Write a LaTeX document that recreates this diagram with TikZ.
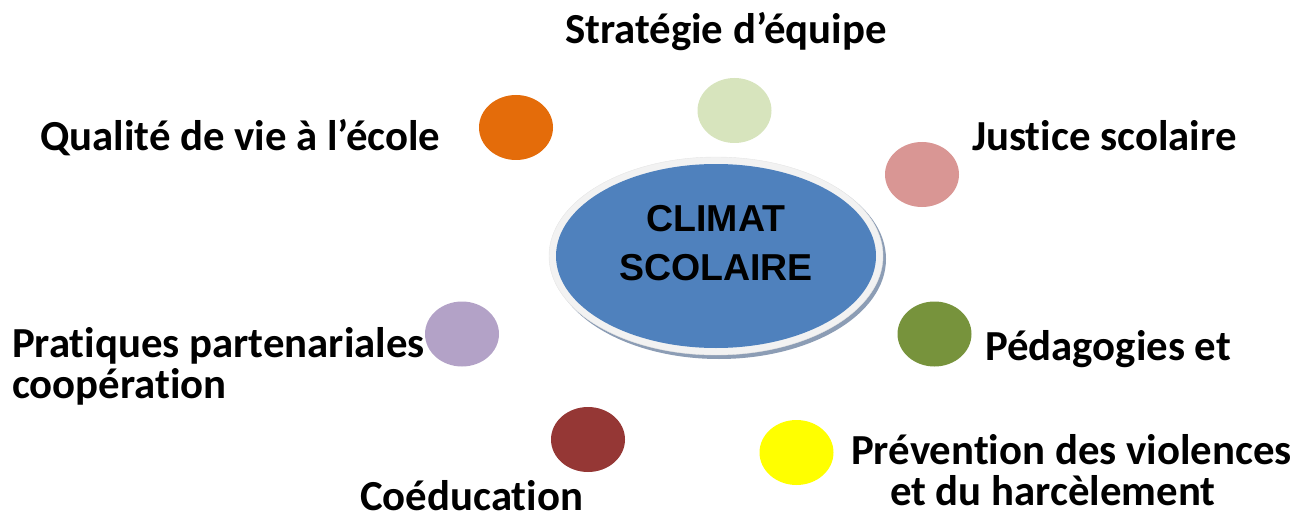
\documentclass[tikz,border=0pt]{standalone}
\usepackage{fontspec}
\setmainfont{Carlito}[Ligatures=NoCommon]
\newfontfamily\arialfont{Liberation Sans}
\usetikzlibrary{shapes.geometric}

\definecolor{orangeQ}{HTML}{E46C0A}
\definecolor{vertS}{HTML}{D7E4BD}
\definecolor{roseJ}{HTML}{D99694}
\definecolor{mauveP}{HTML}{B3A2C7}
\definecolor{vertD}{HTML}{77933C}
\definecolor{rougeC}{HTML}{953735}
\definecolor{jauneV}{HTML}{FFFF00}
\definecolor{bleuC}{HTML}{4F81BD}
\definecolor{anneauC}{HTML}{F2F2F2}
\definecolor{ombreC}{HTML}{8C9DB5}

\tikzset{
  bulle/.style={shape=ellipse, minimum width=74pt, minimum height=65pt, inner sep=0pt},
  etiquette/.style={anchor=base west, inner sep=0pt, align=left,
    font=\fontsize{42.8}{41}\selectfont\bfseries},
}

\begin{document}
\begin{tikzpicture}[x=1pt,y=-1pt]
   \useasboundingbox (0,0) rectangle (1293,516);
   % centre
   \path (719,259) node[shape=ellipse, fill=ombreC, minimum width=334pt, minimum height=200pt] (ombre) {};
   \path (716,256) node[shape=ellipse, fill=anneauC, draw=gray!20, minimum width=334pt, minimum height=198pt] (anneau) {};
   \path (716,256) node[shape=ellipse, fill=bleuC, minimum width=320pt, minimum height=184pt] (climat) {};
   \path (716,243) node[align=center, inner sep=0pt,
     font=\arialfont\fontsize{37.5}{49}\selectfont\bfseries] (titre) {CLIMAT\\SCOLAIRE};
   % bulles
   \path (516,127.5) node[bulle, fill=orangeQ] (qualite) {};
   \path (734.5,110.5) node[bulle, fill=vertS] (strategie) {};
   \path (922,174.5) node[bulle, fill=roseJ] (justice) {};
   \path (462,334) node[bulle, fill=mauveP] (pratiques) {};
   \path (934.5,334) node[bulle, fill=vertD] (pedagogies) {};
   \path (588,439.5) node[bulle, fill=rougeC] (coeducation) {};
   \path (796.5,452.5) node[bulle, fill=jauneV] (prevention) {};
   % textes
   \path (40,150) node[etiquette] (tqualite) {Qualité de vie à l’école};
   \path (565,44) node[etiquette] (tstrategie) {Stratégie d’équipe};
   \path (972,150) node[etiquette] (tjustice) {Justice scolaire};
   \path (12,398) node[etiquette] (tpratiques) {Pratiques partenariales\\coopération};
   \path (985,360) node[etiquette] (tpedagogies) {Pédagogies et};
   \path (360,510) node[etiquette, text depth=0pt] (tcoeducation) {Coéducation};
   \path (851,505) node[etiquette] (tprevention) {Prévention des violences\\\hspace*{39pt}et du harcèlement};
\end{tikzpicture}
\end{document}
